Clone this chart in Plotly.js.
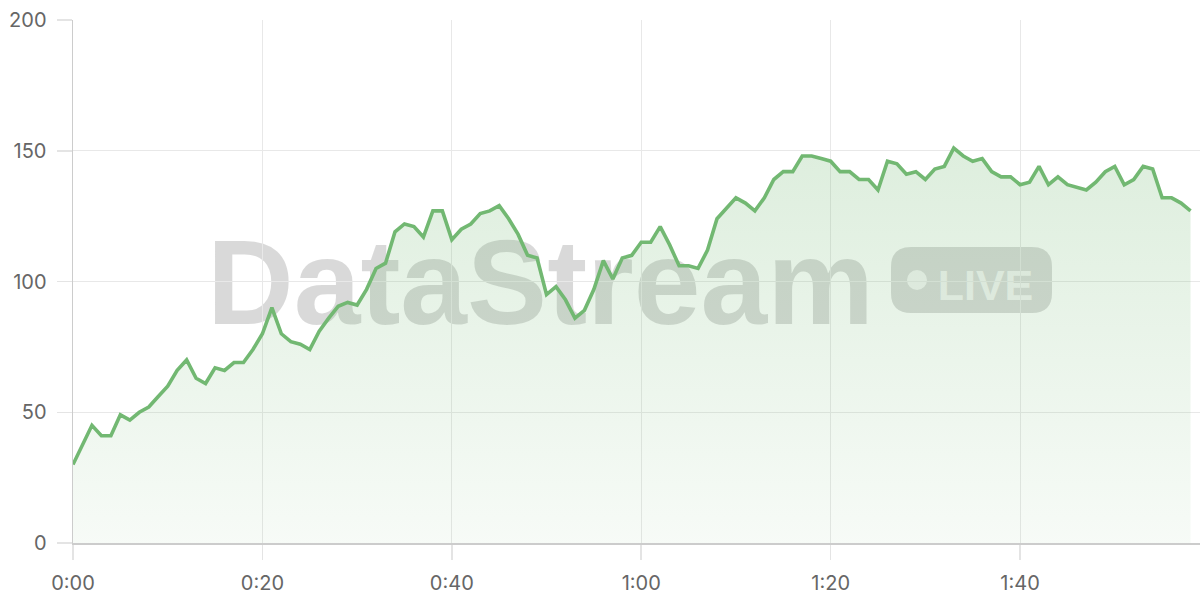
<!DOCTYPE html>
<html>
<head>
<meta charset="utf-8">
<script src="https://cdn.plot.ly/plotly-3.0.1.min.js"></script>
<style>
  html, body { margin: 0; padding: 0; background: #ffffff; }
  #chart { width: 1200px; height: 600px; }
</style>
</head>
<body>
<div id="chart"></div>
<script>
// ---- data ----
const values = [
  30, 37.5, 45, 41, 41, 49, 47, 50, 52, 56,
  60, 66, 70, 63, 61, 67, 66, 69, 69, 74,
  80, 90, 80, 77, 76, 74, 81, 86, 90.5, 92,
  91, 97, 105, 107, 119, 122, 121, 117, 127, 127,
  116, 120, 122, 126, 127, 129, 124, 118, 110, 109,
  95, 98, 93, 86, 89, 97, 108, 101, 109, 110,
  115, 115, 121, 114, 106, 106, 105, 112, 124, 128,
  132, 130, 127, 132, 139, 142, 142, 148, 148, 147,
  146, 142, 142, 139, 139, 135, 146, 145, 141, 142,
  139, 143, 144, 151, 148, 146, 147, 142, 140, 140,
  137, 138, 144, 137, 140, 137, 136, 135, 138, 142,
  144, 137, 139, 144, 143, 132, 132, 130, 127
];
const seconds = values.map((_, i) => i);
const xTickVals = [0, 20, 40, 60, 80, 100];
const xTickText = ["0:00", "0:20", "0:40", "1:00", "1:20", "1:40"];
const yTickVals = [0, 50, 100, 150, 200];
const watermarkText = "DataStream";
const badgeText = "LIVE";

// ---- layout helpers (pixel -> paper) ----
const W = 1200, H = 600;
const mL = 73, mR = 0, mT = 20, mB = 57;
const pw = W - mL - mR, ph = H - mT - mB;
const px = x => (x - mL) / pw;
const py = y => (H - mB - y) / ph;

// badge rounded rectangle
const bx0 = px(891), bx1 = px(1052), by0 = py(313), by1 = py(247);
const rx = 20 / pw, ry = 20 / ph;
const badgePath =
  `M ${bx0 + rx},${by1} L ${bx1 - rx},${by1} Q ${bx1},${by1} ${bx1},${by1 - ry} ` +
  `L ${bx1},${by0 + ry} Q ${bx1},${by0} ${bx1 - rx},${by0} ` +
  `L ${bx0 + rx},${by0} Q ${bx0},${by0} ${bx0},${by0 + ry} ` +
  `L ${bx0},${by1 - ry} Q ${bx0},${by1} ${bx0 + rx},${by1} Z`;

const green = '#72b872';

const trace = {
  x: seconds,
  y: values,
  type: 'scatter',
  mode: 'lines',
  line: { color: green, width: 3.6, shape: 'linear' },
  fill: 'tozeroy',
  fillgradient: {
    type: 'vertical',
    start: 0,
    stop: 150,
    colorscale: [[0, 'rgba(116,185,116,0.06)'], [1, 'rgba(116,185,116,0.24)']]
  },
  hoverinfo: 'skip'
};

const tickFont = { family: 'Inter, "Noto Sans", sans-serif', size: 20, color: '#666666' };

const layout = {
  width: W, height: H,
  margin: { l: mL, r: mR, t: mT, b: mB, pad: 0 },
  paper_bgcolor: '#ffffff',
  plot_bgcolor: '#ffffff',
  showlegend: false,
  xaxis: {
    range: [0, 119],
    tickvals: xTickVals,
    ticktext: xTickText,
    showgrid: true,
    gridcolor: '#e8e8e8',
    gridwidth: 1,
    zeroline: false,
    showline: true,
    linecolor: '#cccccc',
    linewidth: 1.5,
    ticks: 'outside',
    ticklen: 15,
    tickcolor: '#e4e4e4',
    tickwidth: 1.5,
    tickfont: tickFont,
    ticklabelstandoff: 6,
    fixedrange: true
  },
  yaxis: {
    range: [0, 200],
    tickvals: yTickVals,
    showgrid: true,
    gridcolor: '#e8e8e8',
    gridwidth: 1,
    zeroline: false,
    showline: true,
    linecolor: '#cccccc',
    linewidth: 1.5,
    ticks: 'outside',
    ticklen: 15,
    tickcolor: '#e4e4e4',
    tickwidth: 1.5,
    tickfont: tickFont,
    ticklabelstandoff: 6,
    fixedrange: true
  },
  shapes: [
    {
      type: 'rect', xref: 'paper', yref: 'paper', layer: 'between',
      x0: px(200), x1: px(881), y0: py(321), y1: py(221),
      fillcolor: 'rgba(0,0,0,0)',
      line: { width: 0 },
      label: {
        text: watermarkText,
        textposition: 'middle center',
        font: { family: '"Liberation Sans", Arial, sans-serif', size: 120, weight: 'bold', color: 'rgba(0,0,0,0.15)' }
      }
    },
    {
      type: 'path', xref: 'paper', yref: 'paper', layer: 'between',
      path: badgePath,
      fillcolor: 'rgba(0,0,0,0.15)',
      line: { width: 0 }
    },
    {
      type: 'circle', xref: 'paper', yref: 'paper', layer: 'between',
      x0: px(907), x1: px(927), y0: py(290), y1: py(270),
      fillcolor: 'rgba(255,255,255,0.7)',
      line: { width: 0 }
    },
    {
      type: 'rect', xref: 'paper', yref: 'paper', layer: 'between',
      x0: px(935), x1: px(1036), y0: py(311), y1: py(251),
      fillcolor: 'rgba(0,0,0,0)',
      line: { width: 0 },
      label: {
        text: badgeText,
        textposition: 'middle center',
        font: { family: '"Liberation Sans", Arial, sans-serif', size: 43, weight: 'bold', color: 'rgba(255,255,255,0.7)' }
      }
    }
  ]
};

Plotly.newPlot('chart', [trace], layout, { displayModeBar: false, staticPlot: true });
</script>
</body>
</html>
